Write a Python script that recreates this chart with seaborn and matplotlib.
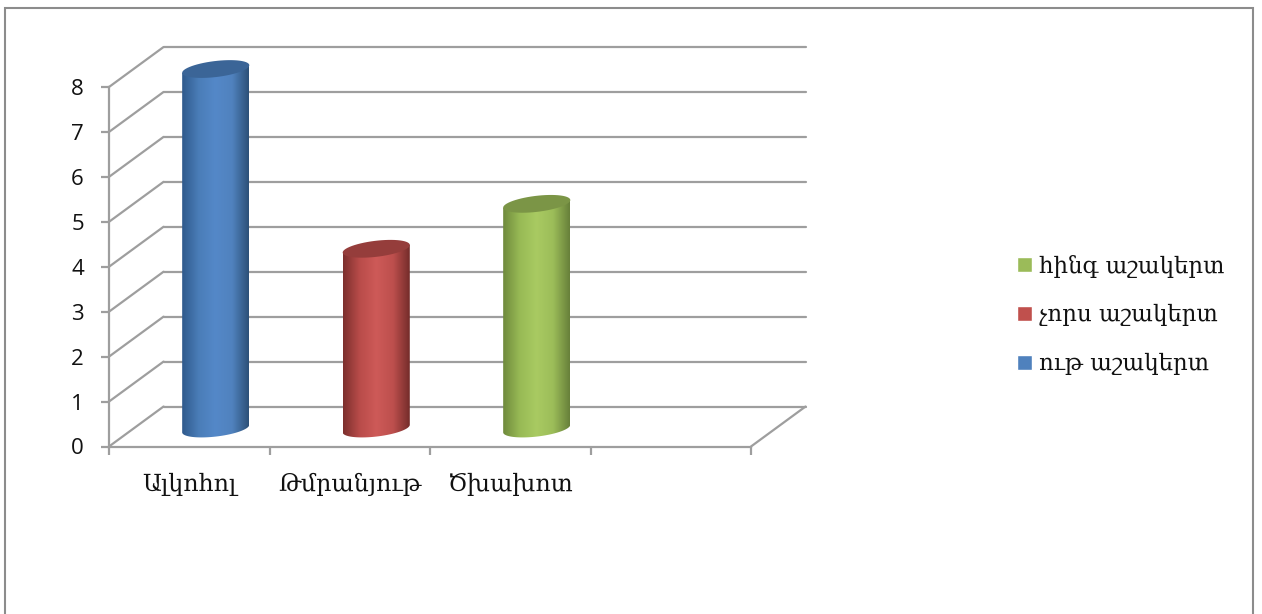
import numpy as np
import pandas as pd
import seaborn as sns
import matplotlib.pyplot as plt
from matplotlib.colors import LinearSegmentedColormap
from matplotlib.patches import Patch, Polygon, Rectangle

# Data
categories = ["Ալկոհոլ", "Թմրանյութ", "Ծխախոտ"]
empty_slot = " "
series_names = ["ութ աշակերտ", "չորս աշակերտ", "հինգ աշակերտ"]
values = [8, 4, 5]
y_ticks = [0, 1, 2, 3, 4, 5, 6, 7, 8]

# Colors: legend, then dark / light / dark for the cylinder side, then the cap
legend_colors = ["#4f81bd", "#c0504d", "#9bbb59"]
side_colors = [
    ["#2f5a8c", "#4a7db8", "#5488c8", "#5082be", "#2d5078"],
    ["#7c2f2d", "#b94c4a", "#ce5a58", "#bd4f4d", "#742c2a"],
    ["#6f8a3c", "#98ba55", "#a9ca62", "#9cbd59", "#67803a"],
]
cap_colors = ["#3b6597", "#953d3b", "#7b9546"]
grid_color = "#9e9e9e"
text_color = "#111111"

sns.set_theme(style="white")
plt.rcParams["font.family"] = ["Open Sans", "DejaVu Sans"]
serif_font = ["DejaVu Serif", "DejaVu Sans"]

W, H = 1262, 614
fig = plt.figure(figsize=(W / 100, H / 100), dpi=100)
ax = fig.add_axes([109 / W, (H - 446.5) / H, (751 - 109) / W, (446.5 - 87) / H])

df = pd.DataFrame({"cat": categories, "val": values, "series": series_names})
sns.barplot(data=df, x="cat", y="val", hue="series", order=categories + [empty_slot],
            hue_order=series_names, palette=legend_colors, dodge=False, width=0.417,
            legend=False, ax=ax)

ax.set_xlim(-0.5, 3.5)
ax.set_ylim(0, 8)
ax.set_xlabel("")
ax.set_ylabel("")

# Fake depth of the 3D box, in data units
depth_x, depth_y = 0.34, 0.89
for v in y_ticks:
    ax.plot([-0.5, -0.5 + depth_x], [v, v + depth_y], color=grid_color, lw=1.6,
            clip_on=False, zorder=1, solid_capstyle="round")
    ax.plot([-0.5 + depth_x, 3.5 + depth_x], [v + depth_y, v + depth_y], color=grid_color,
            lw=1.6, clip_on=False, zorder=1)
ax.plot([3.5, 3.5 + depth_x], [0, depth_y], color=grid_color, lw=1.6, clip_on=False, zorder=1)


def tilted_ellipse(cx, cy, t0, t1, a=33.8, b=8.0, tilt=6.8):
    # Points of an ellipse in pixel coords, the right end a bit higher
    t = np.linspace(t0, t1, 60)
    r = np.deg2rad(tilt)
    x = cx + a * np.cos(t) * np.cos(r) - b * np.sin(t) * np.sin(r)
    y = cy + a * np.cos(t) * np.sin(r) + b * np.sin(t) * np.cos(r)
    return np.column_stack([x, y])


# Replace the flat seaborn bars with shaded cylinders
shift_x, shift_y = 0.165, 0.40
fig.canvas.draw()
for i, container in enumerate(ax.containers):
    cmap = LinearSegmentedColormap.from_list(f"side{i}", side_colors[i])
    for bar in container:
        h = bar.get_height()
        if not h > 0:
            continue
        bar.set_visible(False)
        mid = bar.get_x() + bar.get_width() / 2 + shift_x
        bottom = ax.transData.transform((mid, shift_y))
        top = ax.transData.transform((mid, h + shift_y))

        lower = tilted_ellipse(bottom[0], bottom[1], np.pi, 2 * np.pi)
        body = np.vstack([lower, tilted_ellipse(top[0], top[1], 0, np.pi)[[0, -1]]])
        clip = Polygon(body, closed=True, transform=None, facecolor="none", edgecolor="none")
        ax.add_patch(clip)

        x_left, x_right = bar.get_x() + shift_x, bar.get_x() + bar.get_width() + shift_x
        img = ax.imshow(np.linspace(0, 1, 256).reshape(1, -1), cmap=cmap, aspect="auto",
                        extent=[x_left, x_right, 0, h + 1], origin="lower", zorder=3,
                        interpolation="bilinear")
        img.set_clip_path(clip)
        img.set_clip_box(fig.bbox)

        cap = tilted_ellipse(top[0], top[1], 0, 2 * np.pi)
        ax.add_patch(Polygon(cap, closed=True, transform=None, facecolor=cap_colors[i],
                             edgecolor="none", zorder=4, clip_on=False))

ax.set_xlim(-0.5, 3.5)
ax.set_ylim(0, 8)

# Axes, ticks
sns.despine(ax=ax)
for side in ["left", "bottom"]:
    ax.spines[side].set_color(grid_color)
    ax.spines[side].set_linewidth(1.6)
ax.set_yticks(y_ticks)
ax.set_xticks([0, 1, 2])
ax.set_xticklabels(categories, family=serif_font, fontsize=17, color=text_color)
ax.set_xticks([-0.5, 0.5, 1.5, 2.5, 3.5], minor=True)
ax.tick_params(axis="y", left=True, length=6, width=1.6, color=grid_color, pad=12,
               labelsize=16, labelcolor=text_color)
ax.tick_params(axis="x", which="major", bottom=False, pad=13)
ax.tick_params(axis="x", which="minor", bottom=True, length=6, width=1.6, color=grid_color)

# Legend, top row is the last series
handles = [Patch(facecolor=legend_colors[i], label=series_names[i]) for i in [2, 1, 0]]
fig.legend(handles=handles, loc="center left", bbox_to_anchor=(996 / W, (H - 315) / H),
           frameon=False, handlelength=0.66, handleheight=0.66, handletextpad=0.3,
           labelspacing=1.17, prop={"family": serif_font, "size": 16.5}, labelcolor=text_color)

# Chart border
fig.add_artist(Rectangle((4.5 / W, -0.01), (1253 - 4.5) / W, (H - 8) / H + 0.01, fill=False,
                         edgecolor="#8c8c8c", linewidth=1.5, transform=fig.transFigure))

fig.savefig("out.png", dpi=100)
